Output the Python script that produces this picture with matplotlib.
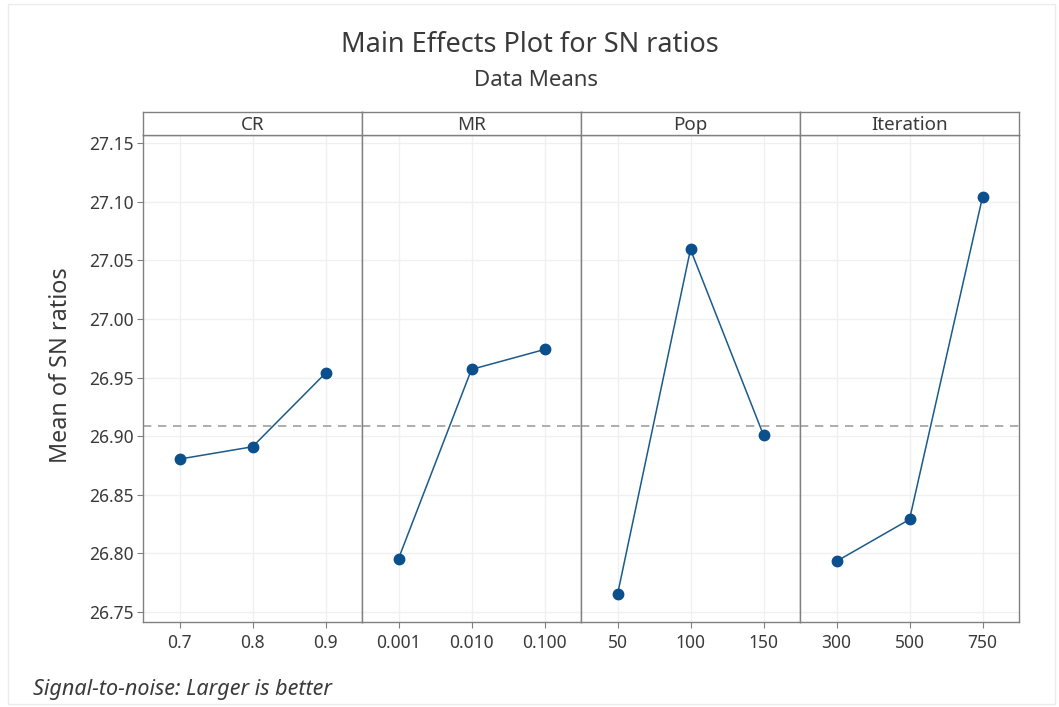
import matplotlib
matplotlib.use("Agg")
import matplotlib.pyplot as plt
from matplotlib.patches import Rectangle

plt.rcParams['font.family'] = ['Noto Sans', 'DejaVu Sans']

# Factor names and their level labels
factors = ["CR", "MR", "Pop", "Iteration"]
cr_levels = ["0.7", "0.8", "0.9"]
mr_levels = ["0.001", "0.010", "0.100"]
pop_levels = ["50", "100", "150"]
iter_levels = ["300", "500", "750"]

# Mean SN ratio at each level
cr_means = [26.8805, 26.8910, 26.9538]
mr_means = [26.7955, 26.9570, 26.9740]
pop_means = [26.7650, 27.0594, 26.9009]
iter_means = [26.7933, 26.8290, 27.1040]

grand_mean = 26.9086

y_ticks = [26.75, 26.80, 26.85, 26.90, 26.95, 27.00, 27.05, 27.10, 27.15]
y_limits = (26.7415, 27.157)

levels = [cr_levels, mr_levels, pop_levels, iter_levels]
means = [cr_means, mr_means, pop_means, iter_means]

frame_col = "#808080"
line_col = "#1b5a8a"
marker_col = "#0b4f8c"
grid_col = "#f0f0f0"
text_col = "#3a3a3a"

fig = plt.figure(figsize=(10.59, 7.07), dpi=100)

# light border around the graph region
fig.patches.append(Rectangle((0.008, 0.004), 0.988, 0.99, transform=fig.transFigure,
                             fill=False, edgecolor="#ececec", linewidth=1.0))

left, right = 143 / 1059, 1019 / 1059
bottom = 1 - 622 / 707
plot_top = 1 - 135 / 707
strip_top = 1 - 112 / 707
pw = (right - left) / 4

axes = []
for i, (name, lv, mv) in enumerate(zip(factors, levels, means)):
    x0 = left + i * pw
    ax = fig.add_axes([x0, bottom, pw, plot_top - bottom])
    xs = list(range(1, len(lv) + 1))
    ax.axhline(grand_mean, color="#a0a0a0", linestyle=(0, (5, 4)), linewidth=1.2, zorder=1)
    ax.plot(xs, mv, color=line_col, linewidth=1.1, marker="o", markersize=7.5,
            markerfacecolor=marker_col, markeredgecolor=marker_col, zorder=3)
    ax.set_xlim(0.5, len(lv) + 0.5)
    ax.set_ylim(*y_limits)
    ax.set_xticks(xs)
    ax.set_xticklabels(lv, fontsize=12.5, color=text_col)
    ax.set_yticks(y_ticks)
    ax.grid(True, color=grid_col, linewidth=1.0, zorder=0)
    ax.set_axisbelow(True)
    for s in ax.spines.values():
        s.set_color(frame_col)
        s.set_linewidth(1.0)
    ax.tick_params(axis="x", length=4, color=frame_col, pad=5)
    if i == 0:
        ax.set_yticklabels([f"{v:.2f}" for v in y_ticks], fontsize=12.5, color=text_col)
        ax.tick_params(axis="y", length=4, color=frame_col, pad=3)
    else:
        ax.tick_params(axis="y", left=False, labelleft=False)
    axes.append(ax)

    # factor header strip
    sax = fig.add_axes([x0, plot_top, pw, strip_top - plot_top])
    sax.set_xticks([])
    sax.set_yticks([])
    for s in sax.spines.values():
        s.set_color(frame_col)
        s.set_linewidth(1.0)
    sax.text(0.5, 0.45, name, ha="center", va="center", fontsize=13.5, color=text_col,
             transform=sax.transAxes)

fig.text(61 / 1059, 1 - 365 / 707, "Mean of SN ratios", ha="center", va="center",
         rotation=90, fontsize=16.8, color=text_col)

fig.text(530 / 1059, 1 - 45 / 707, "Main Effects Plot for SN ratios", ha="center",
         va="center", fontsize=19.5, color=text_col)
fig.text(536 / 1059, 1 - 80 / 707, "Data Means", ha="center", va="center",
         fontsize=16, color=text_col)
fig.text(33 / 1059, 1 - 689 / 707, "Signal-to-noise: Larger is better", ha="left",
         va="center", fontsize=15.5, style="italic", color=text_col)

fig.savefig("out.png", dpi=100)
